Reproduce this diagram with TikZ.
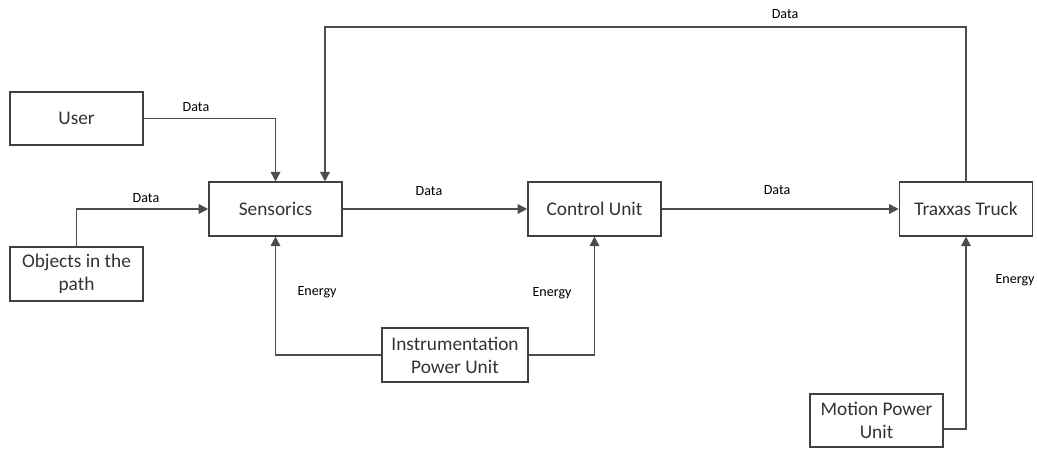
\documentclass[tikz,border=0pt]{standalone}
\usepackage{fontspec}
\setmainfont{Carlito}
\usepackage{tikz}
\usetikzlibrary{positioning}
\usetikzlibrary{arrows.meta}

\tikzset{
  block/.style={draw=black!75, line width=0.9pt, minimum width=2.66cm, minimum height=1.07cm,
    align=center, font=\fontsize{11}{13}\selectfont, text=black!80, inner sep=2pt},
  flow/.style={draw=black!70, line width=0.9pt, -{Triangle[length=5.5pt,width=5.5pt]}},
  lbl/.style={font=\fontsize{8}{9}\selectfont, text=black, inner sep=0pt}
}

\begin{document}
\begin{tikzpicture}[x=0.02cm, y=-0.02cm]
\useasboundingbox (0,0) rectangle (1037,449);
% blocks
\node[block] (user) at (76.5,118.5) {User};
\node[block] (objects) at (76.5,274) {Objects in the\\path};
\node[block] (sensorics) at (275.5,209) {Sensorics};
\node[block] (control) at (594.5,209) {Control Unit};
\node[block] (truck) at (966,209) {Traxxas Truck};
\node[block, minimum width=2.92cm] (ipu) at (455,355) {Instrumentation\\Power Unit};
\node[block] (mpu) at (876.5,420.5) {Motion Power\\Unit};
\coordinate (fb) at (325,27);
% data
\draw[flow] (user.east) -| (sensorics.north);
\draw[flow] (objects.north) |- (sensorics.west);
\draw[flow] (sensorics) -- (control);
\draw[flow] (control) -- (truck);
\draw[flow] (truck.north) |- (fb) -- (fb |- sensorics.north);
% energy
\draw[flow] (ipu.west) -| (sensorics.south);
\draw[flow] (ipu.east) -| (control.south);
\draw[flow] ([yshift=-0.17cm]mpu.east) -| (truck.south);
% labels
\node[lbl] (dUser) at (196,107) {Data};
\node[lbl] (dObj) at (146,198) {Data};
\node[lbl] (dSens) at (429,191) {Data};
\node[lbl] (dCtrl) at (777,190) {Data};
\node[lbl] (dTop) at (785,14) {Data};
\node[lbl] (eSens) at (317,292) {Energy};
\node[lbl] (eCtrl) at (552,293) {Energy};
\node[lbl] (eTruck) at (1015,280) {Energy};
\end{tikzpicture}
\end{document}
